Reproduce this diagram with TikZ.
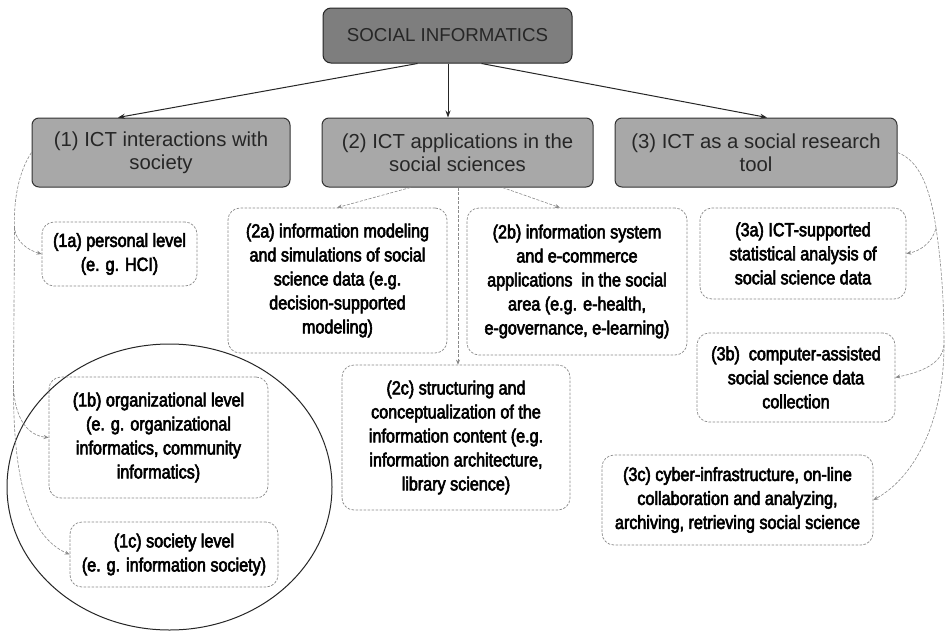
\documentclass[tikz,border=0pt]{standalone}
\usepackage{fontspec}
\setmainfont{Liberation Sans}
\newfontfamily\narrowfont[FakeStretch=0.85,FakeBold=3]{Liberation Sans}
\usetikzlibrary{shapes.geometric,arrows.meta,calc}
\definecolor{darkfill}{HTML}{7E7E7E}
\definecolor{midfill}{HTML}{A8A8A8}
\definecolor{linegray}{HTML}{8A8A8A}
\begin{document}
\begin{tikzpicture}[x=1pt,y=-1pt,
  rootbox/.style={rectangle, rounded corners=8pt, draw=black!85, line width=1pt, fill=darkfill,
    inner sep=0pt, font=\fontsize{18.7}{22}\selectfont, text=black!85},
  catbox/.style={rectangle, rounded corners=7pt, draw=black!80, line width=1pt, fill=midfill,
    inner sep=0pt, align=center, font=\fontsize{20.3}{23}\selectfont, text=black!85},
  leafbox/.style={rectangle, rounded corners=12pt, draw=linegray, dash pattern=on 2.5pt off 1.5pt,
    line width=0.7pt, fill=white, inner sep=0pt, align=center,
    font=\narrowfont\fontsize{19}{24}\selectfont},
  mainarrow/.style={-{Stealth[length=7pt,width=5pt]}, line width=1pt, black!85},
  subarrow/.style={-{Stealth[length=5pt,width=4pt]}, linegray, line width=0.6pt, dash pattern=on 3pt off 1.5pt},
  ringstyle/.style={ellipse, draw=black!85, line width=1pt, inner sep=0pt}
]
\useasboundingbox (0,0) rectangle (947,632);
\fill[white] (0,0) rectangle (947,632);

% ring around 1b and 1c
\node[ringstyle, minimum width=325pt, minimum height=286pt] (ring) at (169.5,487) {};

% root
\node[rootbox, minimum width=249pt, minimum height=55pt] (root) at (447.5,35.5) {SOCIAL INFORMATICS};

% categories
\node[catbox, minimum width=258pt, minimum height=69pt] (c1) at (161,152.5) {(1) ICT interactions with\\society};
\node[catbox, minimum width=271pt, minimum height=69pt] (c2) at (457.5,152.5) {(2) ICT applications in the\\social sciences};
\node[catbox, minimum width=282pt, minimum height=69pt] (c3) at (756,152.5) {(3) ICT as a social research\\tool};

% leaves
\node[leafbox, minimum width=155pt, minimum height=64pt] (l1a) at (119.5,254) {(1a) personal level\\(e. g. HCI)};
\node[leafbox, minimum width=219pt, minimum height=121pt, fill=none] (l1b) at (158.5,437.5) {(1b) organizational level\\(e. g. organizational\\informatics, community\\informatics)};
\node[leafbox, minimum width=208pt, minimum height=65pt, fill=none] (l1c) at (174,554.5) {(1c) society level\\(e. g. information society)};

\node[leafbox, minimum width=219pt, minimum height=145pt] (l2a) at (337.5,280.5) {(2a) information modeling\\and simulations of social\\science data (e.g.\\decision-supported\\modeling)};
\node[leafbox, minimum width=220pt, minimum height=147pt] (l2b) at (577,281.5) {(2b) information system\\and e-commerce\\applications\ \ in the social\\area (e.g. e-health,\\e-governance, e-learning)};
\node[leafbox, minimum width=228pt, minimum height=145pt] (l2c) at (456,437.5) {(2c) structuring and\\conceptualization of the\\information content (e.g.\\information architecture,\\library science)};

\node[leafbox, minimum width=206pt, minimum height=91pt] (l3a) at (803,253.5) {(3a) ICT-supported\\statistical analysis of\\social science data};
\node[leafbox, minimum width=198pt, minimum height=89pt] (l3b) at (796,377.5) {(3b)\ \ computer-assisted\\social science data\\collection};
\node[leafbox, minimum width=271pt, minimum height=90pt] (l3c) at (737.5,500) {(3c) cyber-infrastructure, on-line\\collaboration and analyzing,\\archiving, retrieving social science};

% main arrows
\draw[mainarrow] ([xshift=-30pt]root.south) -- ([xshift=-43pt]c1.north);
\draw[mainarrow] ([xshift=0.5pt]root.south) -- ([xshift=-9.5pt]c2.north);
\draw[mainarrow] ([xshift=34pt]root.south) -- ([xshift=11pt]c3.north);

% from (2)
\draw[subarrow] ([xshift=-47pt]c2.south) -- ([xshift=-0.5pt]l2a.north);
\draw[subarrow] ([xshift=45pt]c2.south) -- ([xshift=-17pt]l2b.north);
\draw[subarrow] ([xshift=0.5pt]c2.south) -- ([xshift=2pt]l2c.north);

% from (1): trunk and branches
\coordinate (t1) at ($(c1.west)+(-17,75)$);
\coordinate (t2) at ($(c1.west)+(-18,236)$);
\draw[subarrow] (c1.west) .. controls ($(c1.west)+(-12,18)$) and ($(c1.west)+(-18,45)$) .. (t1)
  .. controls ($(t1)+(1,14)$) and ($(l1a.west)+(-14,-4)$) .. (l1a.west);
\draw[subarrow] (t1) -- (t2)
  .. controls ($(t2)+(2,32)$) and ($(l1b.west)+(-20,-2)$) .. (l1b.west);
\draw[subarrow] (t2) .. controls ($(t2)+(0,80)$) and ($(l1c.west)+(-45,-20)$) .. (l1c.west);

% from (3): trunk and branches
\coordinate (r1) at (936,228);
\coordinate (r2) at (944,345);
\draw[subarrow] (c3.east) .. controls ($(c3.east)+(22,8)$) and ($(r1)+(-6,-40)$) .. (r1)
  .. controls ($(r1)+(-4,16)$) and ($(l3a.east)+(12,-2)$) .. (l3a.east);
\draw[subarrow] (r1) .. controls ($(r1)+(6,40)$) and ($(r2)+(0,-40)$) .. (r2)
  .. controls ($(r2)+(-2,22)$) and ($(l3b.east)+(18,-4)$) .. (l3b.east);
\draw[subarrow] (r2) .. controls ($(r2)+(0,70)$) and ($(l3c.east)+(45,-25)$) .. (l3c.east);
\end{tikzpicture}
\end{document}
